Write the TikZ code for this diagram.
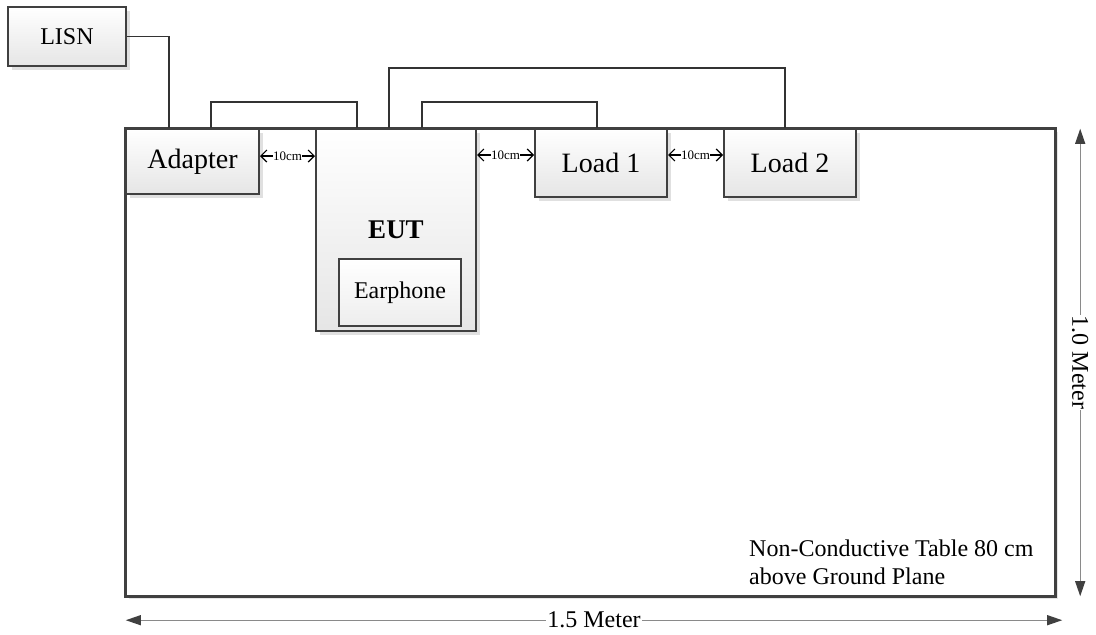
\documentclass[tikz,border=0pt]{standalone}
\usepackage{fontspec}
\setmainfont{Liberation Serif}
\usetikzlibrary{arrows.meta,shadows}
\definecolor{bord}{HTML}{404040}
\definecolor{dimline}{HTML}{8A8A8A}
\begin{document}
\begin{tikzpicture}[x=1pt,y=-1pt,
  box/.style={draw=bord, line width=2pt, top color=white, bottom color=black!10,
    drop shadow={shadow xshift=4pt, shadow yshift=-4pt, fill=black!12, opacity=1},
    inner sep=0pt, text=black},
  innerbox/.style={draw=bord, line width=2pt, top color=white, bottom color=black!7, inner sep=0pt},
  wire/.style={draw=black!80, line width=1.1pt},
  gap/.style={black, line width=1.2pt, {Straight Barb[length=6pt,width=12pt]}-{Straight Barb[length=6pt,width=12pt]}},
  gaplabel/.style={fill=white, inner sep=0.5pt, font=\fontsize{13}{14}\selectfont},
  dim/.style={dimline, line width=1.2pt, {Triangle[length=15pt,width=10pt,color=bord]}-{Triangle[length=15pt,width=10pt,color=bord]}},
  dimlabel/.style={fill=white, inner sep=1pt, text=black, font=\fontsize{24}{26}\selectfont}
]
\useasboundingbox (0,0) rectangle (1096,635);

% table
\node[draw=none, fill=white, minimum width=929pt, minimum height=467pt, inner sep=0pt,
  drop shadow={shadow xshift=3pt, shadow yshift=-3pt, fill=black!10, opacity=1}] (table) at (590.5,362.5) {};

% boxes
\node[box, minimum width=118pt, minimum height=59pt, font=\fontsize{24}{26}\selectfont] (lisn) at (67,36.5) {LISN};
\node[box, minimum width=133pt, minimum height=65pt, font=\fontsize{28}{30}\selectfont] (adapter) at (192.5,161.5) {Adapter};
\node[box, minimum width=160pt, minimum height=202pt, font=\fontsize{27}{30}\selectfont\bfseries] (eut) at (396,230) {EUT};
\node[innerbox, minimum width=122pt, minimum height=67pt, font=\fontsize{24}{26}\selectfont] (earphone) at (400,292.5) {Earphone};
\node[box, minimum width=132pt, minimum height=68pt, font=\fontsize{28}{30}\selectfont] (load1) at (601,163) {Load 1};
\node[box, minimum width=132pt, minimum height=68pt, font=\fontsize{28}{30}\selectfont] (load2) at (790,163) {Load 2};

% table border on top
\draw[draw=bord, line width=3pt] (table.north west) rectangle (table.south east);

% wires
\draw[wire] (lisn.east) -| ([xshift=44pt]adapter.north west);
\draw[wire] ([xshift=86pt]adapter.north west) -- ++(0,-26) -| ([xshift=42pt]eut.north west);
\draw[wire] ([xshift=74pt]eut.north west) -- ++(0,-60) -| ([xshift=62pt]load2.north west);
\draw[wire] ([xshift=107pt]eut.north west) -- ++(0,-26) -| ([xshift=63pt]load1.north west);

% 10 cm gaps
\draw[gap] ([yshift=5.5pt]adapter.east) -- node[gaplabel]{10cm} ([yshift=5.5pt]adapter.east -| eut.west);
\draw[gap] ([yshift=8pt]load1.west -| eut.east) -- node[gaplabel]{10cm} ([yshift=8pt]load1.west);
\draw[gap] ([yshift=8pt]load1.east) -- node[gaplabel]{10cm} ([yshift=8pt]load2.west);

% dimensions
\draw[dim] ([xshift=25pt]table.north east) -- node[dimlabel, rotate=-90]{1.0 Meter} ([xshift=25pt]table.south east);
\draw[dim] ([yshift=-24pt]table.south west) -- node[dimlabel]{1.5 Meter} ([yshift=-24pt,xshift=7pt]table.south east);

% note
\node[anchor=west, align=left, inner sep=0pt, font=\fontsize{24}{28}\selectfont] (note) at (749,562)
  {Non-Conductive Table 80 cm\\above Ground Plane};
\end{tikzpicture}
\end{document}
